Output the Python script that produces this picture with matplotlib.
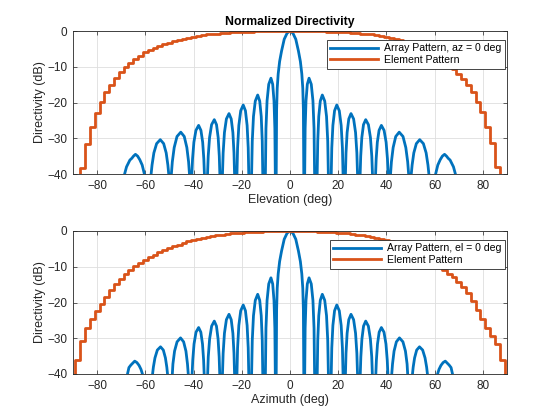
import matplotlib
matplotlib.use("Agg")
import matplotlib.pyplot as plt

plt.rcParams['font.family'] = ['Liberation Sans', 'DejaVu Sans']

# ---------------- data ----------------
# Element pattern (dB), sampled every 2 deg, drawn as a staircase
elem_ang = [-90, -88, -86, -84, -82, -80, -78, -76, -74, -72, -70, -68, -66, -64, -62, -60,
            -58, -56, -54, -52, -50, -48, -46, -44, -42, -40, -38, -36, -34, -32, -30, -28,
            -26, -24, -22, -20, -18, -16, -14, -12, -10, -8, -6, -4, -2, 0,
            2, 4, 6, 8, 10, 12, 14, 16, 18, 20, 22, 24, 26, 28, 30, 32, 34, 36, 38, 40,
            42, 44, 46, 48, 50, 52, 54, 56, 58, 60, 62, 64, 66, 68, 70, 72, 74, 76, 78, 80,
            82, 84, 86, 88, 90]
elem_top = [-48, -48, -38.2, -31.6, -26.8, -22.8, -19.8, -17.2, -15.0, -13.2, -11.5, -10.1, -8.9, -7.8, -6.9, -6.0,
            -5.3, -4.7, -4.2, -3.7, -3.3, -2.9, -2.5, -2.2, -1.9, -1.6, -1.35, -1.15, -0.95, -0.8, -0.7, -0.58,
            -0.48, -0.38, -0.3, -0.24, -0.18, -0.14, -0.1, -0.07, -0.05, -0.03, -0.02, -0.01, 0, 0,
            0, -0.01, -0.02, -0.03, -0.05, -0.07, -0.1, -0.14, -0.18, -0.24, -0.3, -0.38, -0.48, -0.58, -0.7, -0.82, -0.97, -1.15, -1.35, -1.6,
            -1.9, -2.2, -2.6, -3.0, -3.4, -3.9, -4.4, -5.0, -5.6, -6.3, -7.1, -8.0, -9.2, -10.5, -12.0, -13.5, -15.1, -17.0, -19.8, -22.6,
            -26.8, -31.4, -38.0, -48, -48]
elem_bot = [-48, -36.0, -30.7, -27.2, -24.6, -22.4, -20.4, -18.5, -16.6, -14.9, -13.5, -12.0, -10.9, -9.9, -9.0, -8.1,
            -7.3, -6.6, -6.0, -5.3, -4.7, -4.2, -3.8, -3.3, -2.9, -2.5, -2.2, -1.9, -1.6, -1.4, -1.15, -1.0,
            -0.8, -0.65, -0.55, -0.45, -0.35, -0.27, -0.2, -0.14, -0.1, -0.06, -0.03, -0.02, 0, 0,
            0, -0.02, -0.03, -0.06, -0.1, -0.14, -0.2, -0.27, -0.35, -0.45, -0.55, -0.65, -0.8, -1.0, -1.15, -1.4, -1.6, -1.9, -2.2, -2.5,
            -2.9, -3.3, -3.8, -4.3, -4.9, -5.6, -6.4, -7.2, -8.0, -8.9, -9.8, -10.8, -11.9, -13.0, -14.2, -15.6, -17.4, -19.6, -22.0, -24.6,
            -27.0, -29.5, -31.5, -36.0, -48]

# Array pattern, az = 0 deg (top): angle (deg) and directivity (dB)
top_ang = [-90, -69.5, -68.6, -67.8, -66.4, -65.6, -64.9, -64.1, -63.2, -62.3, -61.3, -60.4, -59.0,
           -57.6, -57.22, -56.46, -55.32, -53.8, -52.4, -51.35, -50.65, -50.3, -49.75,
           -49.2, -48.81, -48.03, -46.86, -45.3, -43.86, -42.78, -42.06, -41.7, -41.2,
           -40.7, -40.42, -39.86, -39.02, -37.9, -36.94, -36.22, -35.74, -35.5, -34.85,
           -34.2, -33.92, -33.36, -32.52, -31.4, -30.48, -29.79, -29.33, -29.1, -28.55,
           -28.0, -27.73, -27.19, -26.38, -25.3, -24.38, -23.69, -23.23, -23.0, -22.5,
           -22.0, -21.74, -21.22, -20.44, -19.4, -18.48, -17.79, -17.33, -17.1, -16.5,
           -15.9, -15.65, -15.15, -14.4, -13.4, -12.56, -11.93, -11.51, -11.3, -10.75,
           -10.2, -9.97, -9.51, -8.82, -7.9, -7.18, -6.64, -6.28, -6.1, -5.9,
           -5.7, -5.55, -5.3, -4.9, -4.3, -3.5, -2.4, -1.2, 0,
           1.2, 2.4, 3.5, 4.3, 4.9, 5.3, 5.55, 5.7,
           5.9, 6.1, 6.28, 6.64, 7.18, 7.9, 8.82, 9.51, 9.97, 10.2,
           10.75, 11.3, 11.51, 11.93, 12.56, 13.4, 14.4, 15.15, 15.65, 15.9,
           16.5, 17.1, 17.33, 17.79, 18.48, 19.4, 20.44, 21.22, 21.74, 22.0,
           22.5, 23.0, 23.23, 23.69, 24.38, 25.3, 26.38, 27.19, 27.73, 28.0,
           28.55, 29.1, 29.33, 29.79, 30.48, 31.4, 32.52, 33.36, 33.92, 34.2,
           34.85, 35.5, 35.74, 36.22, 36.94, 37.9, 39.02, 39.86, 40.42, 40.7,
           41.2, 41.7, 42.06, 42.78, 43.86, 45.3, 46.86, 48.03, 48.81, 49.2,
           49.75, 50.3, 50.65, 51.35, 52.4, 53.8, 55.32, 56.46, 57.22, 57.6,
           59.0, 60.4, 61.3, 62.3, 63.2, 64.1, 64.9, 65.6, 66.4, 67.8, 68.6, 69.5, 90]
top_db = [-60, -60, -40, -38.0, -36.1, -35.6, -35.0, -34.5, -35.0, -36.0, -37.5, -40, -60,
          -40, -37.5, -34.1, -31.5, -30.4, -31.5, -34.1, -37.5, -40, -60,
          -40, -36.6, -32.6, -29.5, -28.3, -29.5, -32.6, -36.6, -40, -60,
          -40, -35.8, -31.1, -27.8, -26.4, -27.8, -31.1, -35.8, -40, -60,
          -40, -35.0, -29.8, -26.2, -24.8, -26.2, -29.8, -35.0, -40, -60,
          -40, -34.1, -28.4, -24.6, -23.1, -24.6, -28.4, -34.1, -40, -60,
          -40, -32.7, -26.4, -22.3, -20.7, -22.3, -26.4, -32.7, -40, -60,
          -40, -30.8, -23.9, -19.6, -17.9, -19.6, -23.9, -30.8, -40, -60,
          -40, -27.3, -19.5, -14.9, -13.2, -14.9, -19.5, -27.3, -40, -60,
          -40, -22, -16, -12, -8.5, -5.6, -2.3, -0.6, 0,
          -0.6, -2.3, -5.6, -8.5, -12, -16, -22, -40,
          -60, -40, -27.3, -19.5, -14.9, -13.2, -14.9, -19.5, -27.3, -40,
          -60, -40, -30.8, -23.9, -19.6, -17.9, -19.6, -23.9, -30.8, -40,
          -60, -40, -32.7, -26.4, -22.3, -20.7, -22.3, -26.4, -32.7, -40,
          -60, -40, -34.1, -28.4, -24.6, -23.1, -24.6, -28.4, -34.1, -40,
          -60, -40, -35.0, -29.8, -26.2, -24.8, -26.2, -29.8, -35.0, -40,
          -60, -40, -35.8, -31.1, -27.8, -26.4, -27.8, -31.1, -35.8, -40,
          -60, -40, -36.6, -32.6, -29.5, -28.3, -29.5, -32.6, -36.6, -40,
          -60, -40, -37.5, -34.1, -31.5, -30.4, -31.5, -34.1, -37.5, -40,
          -60, -40, -37.5, -36.0, -35.0, -34.5, -35.0, -35.6, -36.1, -38.0, -40, -60, -60]

# Array pattern, el = 0 deg (bottom)
bot_ang = [-90, -68.5, -67.4, -66.8, -66.0, -65.3, -64.4, -63.5, -62.6, -61.8, -61.2, -59.0,
           -57.0, -56.67, -56.01, -55.02, -53.7, -52.54, -51.67, -51.09, -50.8, -49.8,
           -48.8, -48.56, -47.88, -46.84, -45.4, -44.12, -43.16, -42.52, -42.2, -41.4,
           -40.6, -40.33, -39.8, -38.98, -37.9, -36.98, -36.29, -35.83, -35.6, -34.85,
           -34.15, -33.9, -33.34, -32.5, -31.4, -30.5, -29.83, -29.38, -29.15, -28.55,
           -28.0, -27.73, -27.19, -26.38, -25.3, -24.38, -23.69, -23.23, -23.0, -22.5,
           -22.0, -21.74, -21.22, -20.44, -19.4, -18.48, -17.79, -17.33, -17.1, -16.5,
           -15.9, -15.65, -15.15, -14.4, -13.4, -12.56, -11.93, -11.51, -11.3, -10.75,
           -10.2, -9.97, -9.51, -8.82, -7.9, -7.18, -6.64, -6.28, -6.1, -5.9,
           -5.7, -5.55, -5.3, -4.9, -4.3, -3.5, -2.4, -1.2, 0,
           1.2, 2.4, 3.5, 4.3, 4.9, 5.3, 5.55, 5.7,
           5.9, 6.1, 6.28, 6.64, 7.18, 7.9, 8.82, 9.51, 9.97, 10.2,
           10.75, 11.3, 11.51, 11.93, 12.56, 13.4, 14.4, 15.15, 15.65, 15.9,
           16.5, 17.1, 17.33, 17.79, 18.48, 19.4, 20.44, 21.22, 21.74, 22.0,
           22.5, 23.0, 23.23, 23.69, 24.38, 25.3, 26.38, 27.19, 27.73, 28.0,
           28.55, 29.15, 29.38, 29.83, 30.5, 31.4, 32.5, 33.34, 33.9, 34.15,
           34.85, 35.6, 35.83, 36.29, 36.98, 37.9, 38.98, 39.8, 40.33, 40.6,
           41.4, 42.2, 42.52, 43.16, 44.12, 45.4, 46.84, 47.88, 48.56, 48.8,
           49.8, 50.8, 51.09, 51.67, 52.54, 53.7, 55.02, 56.01, 56.67, 57.0,
           59.0, 61.2, 61.8, 62.6, 63.5, 64.4, 65.3, 66.0, 66.8, 67.4, 68.5, 90]
bot_db = [-60, -60, -40, -38.2, -37.5, -37.0, -36.4, -36.8, -37.6, -38.7, -40, -60,
          -40, -38.1, -35.5, -33.3, -32.4, -33.3, -35.5, -38.1, -40, -60,
          -40, -37.2, -33.6, -31.0, -29.9, -31.0, -33.6, -37.2, -40, -60,
          -40, -36.1, -31.6, -28.3, -27.0, -28.3, -31.6, -36.1, -40, -60,
          -40, -35.2, -30.2, -26.6, -25.2, -26.6, -30.2, -35.2, -40, -60,
          -40, -34.2, -28.6, -24.8, -23.3, -24.8, -28.6, -34.2, -40, -60,
          -40, -32.7, -26.4, -22.3, -20.7, -22.3, -26.4, -32.7, -40, -60,
          -40, -30.6, -23.7, -19.4, -17.7, -19.4, -23.7, -30.6, -40, -60,
          -40, -27.2, -19.4, -14.8, -13.1, -14.8, -19.4, -27.2, -40, -60,
          -40, -22, -16, -12, -8.5, -5.6, -2.3, -0.6, 0,
          -0.6, -2.3, -5.6, -8.5, -12, -16, -22, -40,
          -60, -40, -27.2, -19.4, -14.8, -13.1, -14.8, -19.4, -27.2, -40,
          -60, -40, -30.6, -23.7, -19.4, -17.7, -19.4, -23.7, -30.6, -40,
          -60, -40, -32.7, -26.4, -22.3, -20.7, -22.3, -26.4, -32.7, -40,
          -60, -40, -34.2, -28.6, -24.8, -23.3, -24.8, -28.6, -34.2, -40,
          -60, -40, -35.2, -30.2, -26.6, -25.2, -26.6, -30.2, -35.2, -40,
          -60, -40, -36.1, -31.6, -28.3, -27.0, -28.3, -31.6, -36.1, -40,
          -60, -40, -37.2, -33.6, -31.0, -29.9, -31.0, -33.6, -37.2, -40,
          -60, -40, -38.1, -35.5, -33.3, -32.4, -33.3, -35.5, -38.1, -40,
          -60, -40, -38.7, -37.6, -36.8, -36.4, -37.0, -37.5, -38.2, -40, -60, -60]

xticks = [-80, -60, -40, -20, 0, 20, 40, 60, 80]
yticks = [-40, -30, -20, -10, 0]
labels_top = ['Array Pattern, az = 0 deg', 'Element Pattern']
labels_bot = ['Array Pattern, el = 0 deg', 'Element Pattern']

BLUE = '#0072BD'
ORANGE = '#D95319'

fig = plt.figure(figsize=(5.6, 4.2), dpi=100)
ax1 = fig.add_axes([73/560, 1-174/420, 434/560, 143/420])
ax2 = fig.add_axes([73/560, 1-374/420, 434/560, 143/420])

def style(ax, xlabel, labels, arr_x, arr_y, el_y):
    l1, = ax.plot(arr_x, arr_y, color=BLUE, lw=2.0, solid_joinstyle='round')
    l2, = ax.plot(elem_ang, el_y, color=ORANGE, lw=2.0, drawstyle='steps-mid')
    ax.set_xlim(-90, 90)
    ax.set_ylim(-40, 0)
    ax.set_xticks(xticks)
    ax.set_yticks(yticks)
    ax.grid(True, color='#dedede', lw=0.6)
    ax.set_axisbelow(True)
    ax.tick_params(direction='in', length=3, width=0.5, labelsize=8.5, colors='#262626',
                   top=True, right=True, pad=4)
    for s in ax.spines.values():
        s.set_linewidth(0.6)
        s.set_color('#262626')
    ax.set_xlabel(xlabel, fontsize=9, color='#262626', labelpad=1.5)
    ax.set_ylabel('Directivity (dB)', fontsize=9, color='#262626', labelpad=1)
    leg = ax.legend([l1, l2], labels, loc='upper right', bbox_to_anchor=(0.996, 0.94),
                    fontsize=7.6, frameon=True, fancybox=False, framealpha=1,
                    edgecolor='#262626', handlelength=4.5, handletextpad=0.6,
                    borderpad=0.35, labelspacing=0.15, borderaxespad=0)
    leg.get_frame().set_linewidth(0.6)
    return ax

style(ax1, 'Elevation (deg)', labels_top, top_ang, top_db, elem_top)
style(ax2, 'Azimuth (deg)', labels_bot, bot_ang, bot_db, elem_bot)
ax1.set_title('Normalized Directivity', fontsize=8.8, fontweight='bold', pad=4)

fig.savefig('out.png', dpi=100)
